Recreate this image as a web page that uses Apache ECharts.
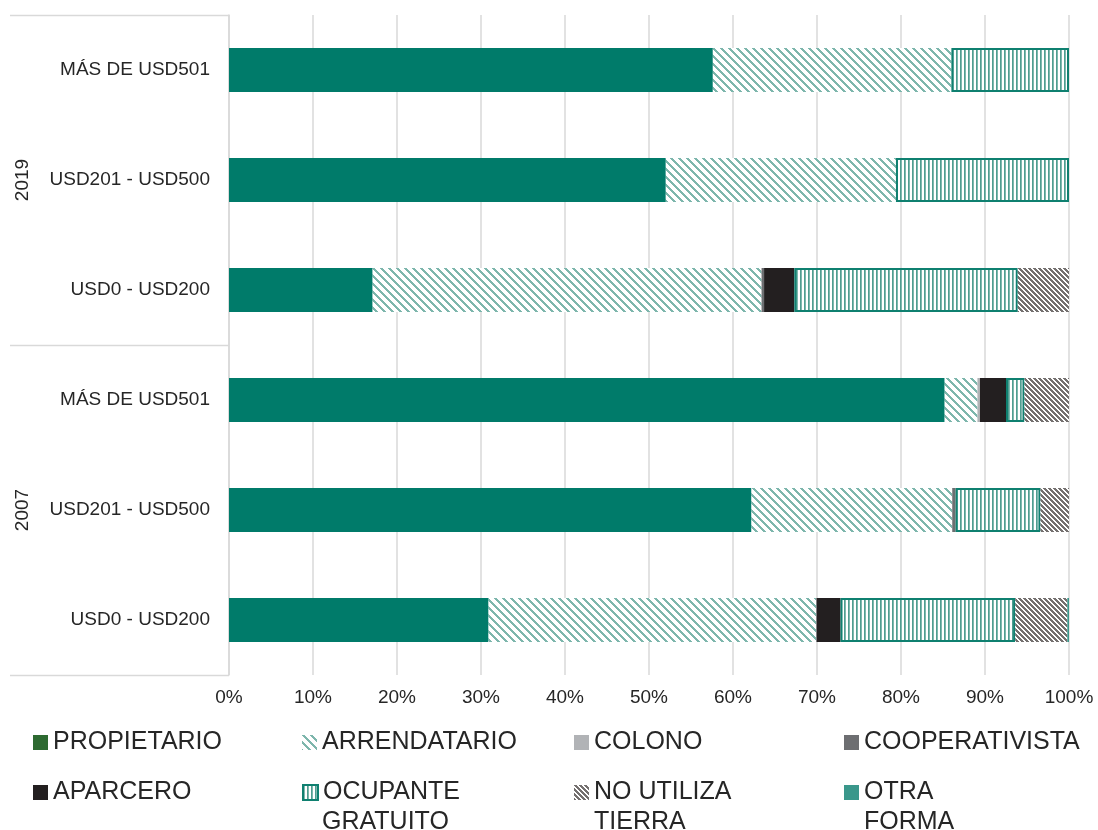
<!DOCTYPE html>
<html>
<head>
<meta charset="utf-8">
<script src="https://cdn.jsdelivr.net/npm/echarts@6/dist/echarts.min.js"></script>
<style>
html,body{margin:0;padding:0;background:#fff;}
#chart{width:1098px;height:830px;}
</style>
</head>
<body>
<div id="chart"></div>
<script>
// ---- data (bottom to top) ----
const categories = ['USD0 - USD200', 'USD201 - USD500', 'MÁS DE USD501', 'USD0 - USD200', 'USD201 - USD500', 'MÁS DE USD501'];
const years = ['2007', '2019'];
const seriesNames = ['PROPIETARIO', 'ARRENDATARIO', 'COLONO', 'COOPERATIVISTA', 'APARCERO', 'OCUPANTE GRATUITO', 'NO UTILIZA TIERRA', 'OTRA FORMA'];
const propietario      = [30.9, 62.2, 85.2, 17.1, 52.0, 57.6];
const arrendatario     = [39.0, 23.9, 3.9, 46.3, 27.4, 28.4];
const colono           = [0, 0, 0.3, 0, 0, 0];
const cooperativista   = [0.1, 0.4, 0, 0.3, 0, 0];
const aparcero         = [2.8, 0, 3.1, 3.6, 0, 0];
const ocupante         = [20.8, 10.1, 2.2, 26.6, 20.6, 14.0];
const noUtiliza        = [6.2, 3.4, 5.3, 6.1, 0, 0];
const otraForma        = [0.2, 0, 0, 0, 0, 0];

// ---- patterns ----
function diagPattern(size, width, color) {
  const c = document.createElement('canvas');
  c.width = size; c.height = size;
  const ctx = c.getContext('2d');
  ctx.fillStyle = '#ffffff'; ctx.fillRect(0, 0, size, size);
  ctx.fillStyle = color;
  for (let y = 0; y < size; y++) {
    for (let x = 0; x < size; x++) {
      if ((((x - y) % size) + size) % size < width) ctx.fillRect(x, y, 1, 1);
    }
  }
  return c;
}
function vertPattern() {
  const c = document.createElement('canvas');
  c.width = 4; c.height = 4;
  const ctx = c.getContext('2d');
  ctx.fillStyle = '#ffffff'; ctx.fillRect(0, 0, 4, 4);
  ctx.fillStyle = '#4f9d90'; ctx.fillRect(0, 0, 1, 4);
  ctx.fillStyle = '#7fb8ae'; ctx.fillRect(1, 0, 1, 4);
  return c;
}
const arrPat = { image: diagPattern(8, 3, '#7db6ac'), repeat: 'repeat' };
const noPat = { image: diagPattern(5, 3, '#74706f'), repeat: 'repeat' };
const ocuPat = { image: vertPattern(), repeat: 'repeat' };

const FONT = "'Liberation Sans', Arial, sans-serif";
const TXT = '#262626';
const GRID = { left: 229, right: 29, top: 15, bottom: 155 };

const chart = echarts.init(document.getElementById('chart'));

function bar(name, data, itemStyle) {
  return {
    name: name, type: 'bar', stack: 'total', data: data, barWidth: 44,
    itemStyle: itemStyle, emphasis: { disabled: true }
  };
}

const series = [
  bar(seriesNames[0], propietario, { color: '#007b6a' }),
  bar(seriesNames[1], arrendatario, { color: arrPat }),
  bar(seriesNames[2], colono, { color: '#b1b3b6' }),
  bar(seriesNames[3], cooperativista, { color: '#6d6e71' }),
  bar(seriesNames[4], aparcero, { color: '#231f20' }),
  bar(seriesNames[5], ocupante, { color: ocuPat, borderColor: '#0f8070', borderWidth: 2 }),
  bar(seriesNames[6], noUtiliza, { color: noPat }),
  bar(seriesNames[7], otraForma, { color: '#3a978b' })
];

// legend layout
const legendCols = [33, 302, 574, 844];
const legendRows = [730, 780];
const firstLine = {
  'OCUPANTE GRATUITO': 'OCUPANTE', 'NO UTILIZA TIERRA': 'NO UTILIZA', 'OTRA FORMA': 'OTRA'
};
const secondLine = {
  'OCUPANTE GRATUITO': 'GRATUITO', 'NO UTILIZA TIERRA': 'TIERRA', 'OTRA FORMA': 'FORMA'
};
const legends = seriesNames.map((n, i) => {
  const d = { name: n };
  if (i === 0) d.itemStyle = { color: '#2d6a31' };
  return {
    data: [d], left: legendCols[i % 4], top: legendRows[Math.floor(i / 4)],
    itemWidth: 15, itemHeight: 15, padding: 0, icon: 'rect', selectedMode: false,
    formatter: (name) => firstLine[name] || name,
    textStyle: { fontSize: 25, color: TXT, fontFamily: FONT }
  };
});

const plotH = 830 - GRID.top - GRID.bottom;
const band = plotH / categories.length;
const graphics = [];
// group separators
[0, 3, 6].forEach(k => {
  const y = Math.round(GRID.top + k * band) + 0.5;
  graphics.push({ type: 'line', shape: { x1: 10, y1: y, x2: GRID.left, y2: y }, style: { stroke: '#d9d9d9', lineWidth: 1.5 }, silent: true });
});
// year labels
years.forEach((yr, gi) => {
  const cy = GRID.top + plotH - (gi * 3 + 1.5) * band;
  graphics.push({
    type: 'text', x: 23, y: cy, rotation: Math.PI / 2,
    style: { text: yr, fontSize: 19, fontFamily: FONT, fill: TXT, align: 'center', verticalAlign: 'middle' }, silent: true
  });
});
// second lines of legend labels
seriesNames.forEach((n, i) => {
  if (!secondLine[n]) return;
  graphics.push({
    type: 'text', x: legendCols[i % 4] + 20, y: legendRows[Math.floor(i / 4)] + 42,
    style: { text: secondLine[n], fontSize: 25, fontFamily: FONT, fill: TXT, align: 'left', verticalAlign: 'middle' }, silent: true
  });
});

chart.setOption({
  animation: false,
  backgroundColor: '#ffffff',
  grid: GRID,
  legend: legends,
  xAxis: {
    type: 'value', min: 0, max: 100, interval: 10,
    axisLabel: { formatter: '{value}%', fontSize: 19, color: TXT, fontFamily: FONT, margin: 13 },
    axisLine: { show: false }, axisTick: { show: false },
    splitLine: { lineStyle: { color: '#d9d9d9', width: 1.5 } }
  },
  yAxis: {
    type: 'category', data: categories,
    axisLabel: { fontSize: 19, color: TXT, fontFamily: FONT, margin: 19 },
    axisLine: { show: true, lineStyle: { color: '#d9d9d9', width: 1.5 } },
    axisTick: { show: false }
  },
  series: series,
  graphic: graphics
});
</script>
</body>
</html>
